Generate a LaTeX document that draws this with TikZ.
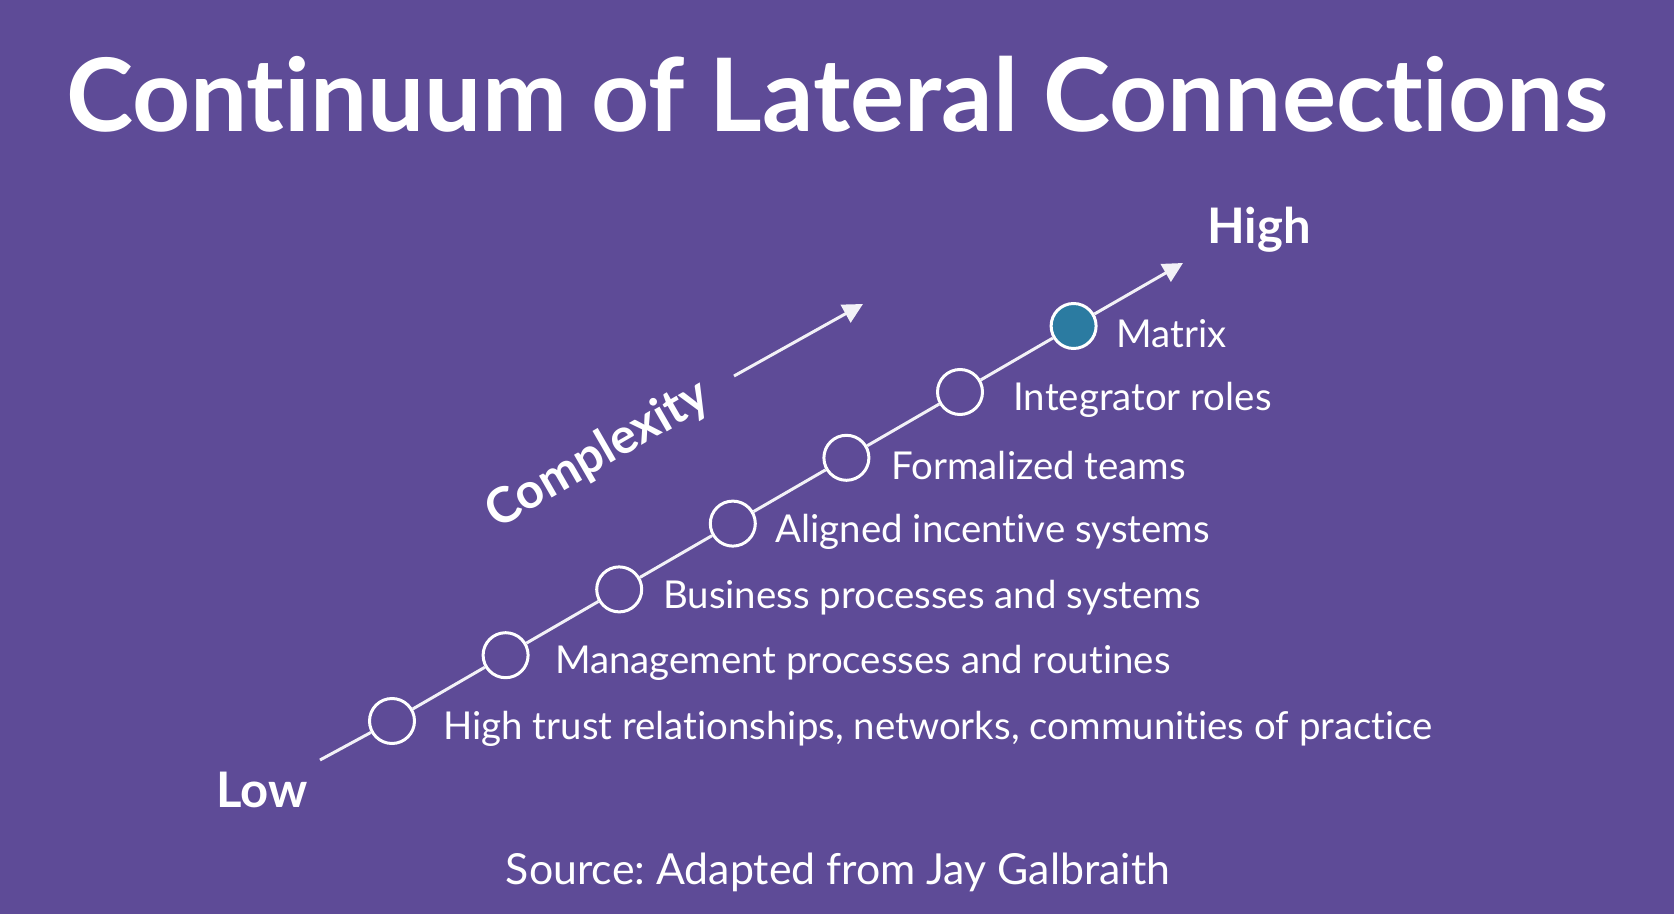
\documentclass[tikz,border=0pt]{standalone}
\usepackage{fontspec}
\setmainfont{Lato}[Ligatures=NoCommon]
\usetikzlibrary{arrows.meta,positioning}
\definecolor{bgpurple}{HTML}{5E4B97}
\definecolor{matrixblue}{HTML}{2B7BA1}
\frenchspacing

\begin{document}
\begin{tikzpicture}[x=0.5pt,y=-0.5pt,>={Triangle[length=10pt,width=10pt]},
    every node/.style={text=white},
    stage/.style={circle, draw=white, line width=1.5pt, fill=bgpurple, minimum size=22.5pt, inner sep=0pt},
    lbl/.style={font=\fontsize{19.2}{22}\selectfont, inner sep=0pt, anchor=west},
    tag/.style={font=\fontsize{24.5}{28}\selectfont\bfseries},
    axis/.style={draw=white!92!bgpurple, line width=1.5pt}]
  \fill[bgpurple] (0,0) rectangle (1674,914);
  \node[font=\fontsize{50.7}{58}\selectfont\bfseries] (title) at (837,94) {Continuum of Lateral Connections};
  % stages along the axis
  \foreach \i/\dx/\txt in {1/0/{High trust relationships, networks, communities of practice},
      2/-1/Management processes and routines, 3/-3.7/Business processes and systems,
      4/-4.3/Aligned incentive systems, 5/-3.2/Formalized teams, 6/1/Integrator roles} {
    \node[stage] (c\i) at ({392+113.6*(\i-1)},{721-65.8*(\i-1)}) {};
    \node[lbl, right=13.5pt of c\i, xshift=\dx pt, yshift=-4pt] (l\i) {\txt};
  }
  \node[stage, fill=matrixblue] (c7) at (1073.6,326) {};
  \node[lbl, right=9.2pt of c7, yshift=-4pt] (l7) {Matrix};
  \coordinate (lo) at (320,760);
  \coordinate (hi) at (1183,263);
  \draw[axis,->] (lo) -- (c1) -- (c2) -- (c3) -- (c4) -- (c5) -- (c6) -- (c7) -- (hi);
  \node[tag] (high) at (1259,230) {High};
  \node[tag] (low) at (262,790) {Low};
  % complexity
  \node[tag, rotate=30] (cplx) at (598,455) {Complexity};
  \coordinate (ca) at (734,376);
  \coordinate (cb) at (863,304);
  \draw[axis,->] (ca) -- (cb);
  \node[font=\fontsize{21.4}{25}\selectfont] (src) at (838,872) {Source: Adapted from Jay Galbraith};
\end{tikzpicture}
\end{document}
